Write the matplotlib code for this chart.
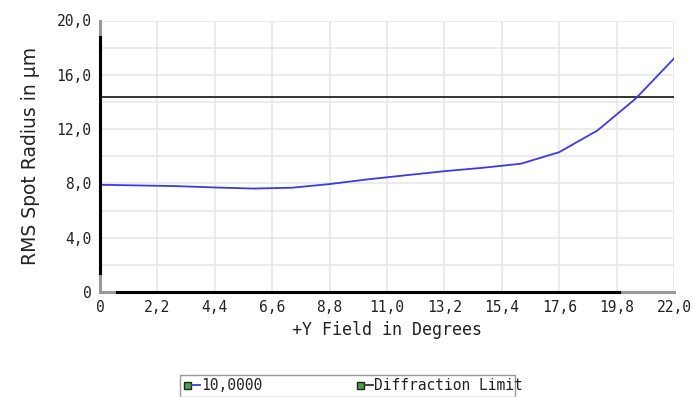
import matplotlib
matplotlib.use("Agg")
import matplotlib.pyplot as plt
from matplotlib.patches import Rectangle
from matplotlib.lines import Line2D

# Data (RMS spot radius vs field)
field = [0, 1.467, 2.933, 4.4, 5.867, 7.333, 8.8, 10.267, 11.733,
         13.2, 14.667, 16.133, 17.6, 19.067, 20.533, 22.0]
rms_radius = [7.9, 7.85, 7.8, 7.7, 7.62, 7.68, 7.95, 8.3, 8.6,
              8.9, 9.15, 9.45, 10.3, 11.9, 14.25, 17.2]
diffraction_limit = 14.33

x_ticks = [0, 2.2, 4.4, 6.6, 8.8, 11.0, 13.2, 15.4, 17.6, 19.8, 22.0]
x_labels = ["0", "2,2", "4,4", "6,6", "8,8", "11,0", "13,2", "15,4", "17,6", "19,8", "22,0"]
y_ticks = [0, 4, 8, 12, 16, 20]
y_labels = ["0", "4,0", "8,0", "12,0", "16,0", "20,0"]
legend_names = ["10,0000", "Diffraction Limit"]

mono = "DejaVu Sans Mono"

fig = plt.figure(figsize=(6.94, 3.97), dpi=100)
W, H = 694, 397
ax = fig.add_axes([100 / W, 1 - 292 / H, 574 / W, (292 - 20.5) / H])

ax.set_xlim(0, 22)
ax.set_ylim(0, 20)

# grid
for gx in x_ticks:
    ax.axvline(gx, color="#e6e6e6", lw=1.1, zorder=0)
for gy in range(0, 21, 2):
    ax.axhline(gy, color="#e6e6e6", lw=1.1, zorder=0)

ax.plot(field, rms_radius, color="#3a3ae6", lw=1.3, zorder=3)
ax.axhline(diffraction_limit, color="#333333", lw=1.4, zorder=2)

for s in ["top", "right"]:
    ax.spines[s].set_visible(False)
for s in ["left", "bottom"]:
    ax.spines[s].set_color("#999999")
    ax.spines[s].set_linewidth(2.2)
ax.axvline(0, ymin=0.07, ymax=0.94, color="black", lw=2.2, zorder=4, clip_on=False)
ax.axhline(0, xmin=0.03, xmax=0.905, color="black", lw=2.2, zorder=4, clip_on=False)

ax.set_xticks(x_ticks)
ax.set_xticklabels(x_labels, fontfamily=mono, fontsize=10.5)
ax.set_yticks(y_ticks)
ax.set_yticklabels(y_labels, fontfamily=mono, fontsize=10.5)
ax.tick_params(length=0, pad=6, colors="#222222")

ax.set_xlabel("+Y Field in Degrees", fontfamily=mono, fontsize=12, labelpad=4, color="#222222")
ax.set_ylabel("RMS Spot Radius in µm", fontfamily="DejaVu Sans", fontsize=13.5, labelpad=12, color="#222222")

# legend drawn as in the reference
fig.patches.append(Rectangle((180 / W, 1 - 397 / H), 335 / W, 22 / H,
                             transform=fig.transFigure, fill=False,
                             edgecolor="#999999", lw=1))
leg_x = [184, 357]
leg_colors = ["#3a3ae6", "#333333"]
for lx, name, c in zip(leg_x, legend_names, leg_colors):
    cy = 1 - 385 / H
    fig.patches.append(Rectangle((lx / W, cy - 3.5 / H), 7 / W, 7 / H,
                                 transform=fig.transFigure, facecolor="#4aa04a",
                                 edgecolor="#222222", lw=1))
    fig.lines.append(Line2D([(lx + 8) / W, (lx + 16) / W], [cy, cy],
                            transform=fig.transFigure, color=c, lw=1.3))
    fig.text((lx + 17) / W, cy, name, fontfamily=mono, fontsize=10.5,
             va="center", ha="left", color="#222222")

fig.savefig("out.png", dpi=100)
